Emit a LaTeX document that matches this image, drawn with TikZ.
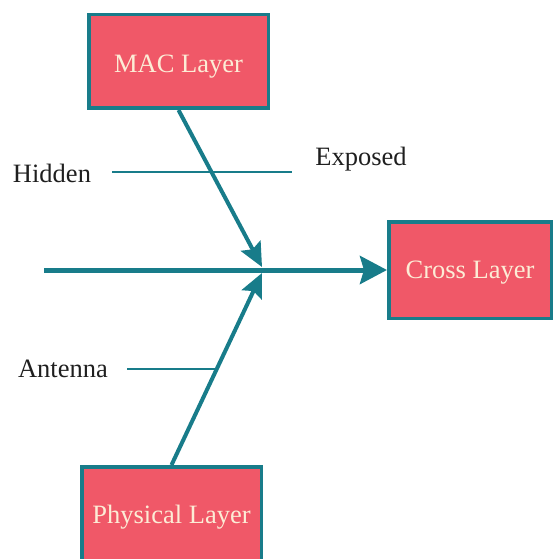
\documentclass[tikz,border=0pt]{standalone}
\usepackage{fontspec}
\setmainfont{Liberation Serif}
\usetikzlibrary{arrows.meta}
\definecolor{tealline}{RGB}{24,124,138}
\definecolor{boxred}{RGB}{240,88,104}
\definecolor{cream}{RGB}{252,236,214}
\begin{document}
\begin{tikzpicture}[x=1pt,y=-1pt,
  layer/.style={draw=tealline, line width=3.5pt, fill=boxred, text=cream,
    font=\fontsize{26.5}{30}\selectfont, inner sep=0pt},
  lbl/.style={font=\fontsize{26.5}{30}\selectfont, text=black!88, inner sep=0pt},
  spine/.style={draw=tealline, line width=5pt, -{Stealth[length=27pt,width=28pt,inset=4pt]}},
  branch/.style={draw=tealline, line width=4pt, -{Stealth[length=24pt,width=22pt,inset=4pt]}},
  rib/.style={draw=tealline, line width=2.5pt}]
\useasboundingbox (0,0) rectangle (554,559);
% boxes
\node[layer, minimum width=179.5pt, minimum height=93.5pt, text height=22pt, text depth=0pt] (mac) at (178.5,61.5) {MAC Layer};
\node[layer, minimum width=162.5pt, minimum height=96.5pt, text height=16pt, text depth=0pt] (cross) at (470,270) {Cross Layer};
\node[layer, minimum width=179.5pt, minimum height=101.5pt] (phys) at (171.5,517.5) {Physical Layer};
% labels
\node[lbl] (hidden) at (52,173) {Hidden};
\node[lbl] (exposed) at (361,159) {Exposed};
\node[lbl] (antenna) at (63,369) {Antenna};
% coordinates
\coordinate (s0) at (44,270);
\coordinate (jm) at (262,267);
\coordinate (jp) at (262,273);
\coordinate (h1) at (112,172);
\coordinate (h2) at (292,172);
\coordinate (a1) at (127,369);
\coordinate (a2) at (217,369);
% ribs
\draw[rib] (h1) -- (h2);
\draw[rib] (a1) -- (a2);
% spine and branches
\draw[spine] (s0) -- (cross.west);
\draw[branch] (mac.south) -- (jm);
\draw[branch] (phys.north) -- (jp);
\end{tikzpicture}
\end{document}
